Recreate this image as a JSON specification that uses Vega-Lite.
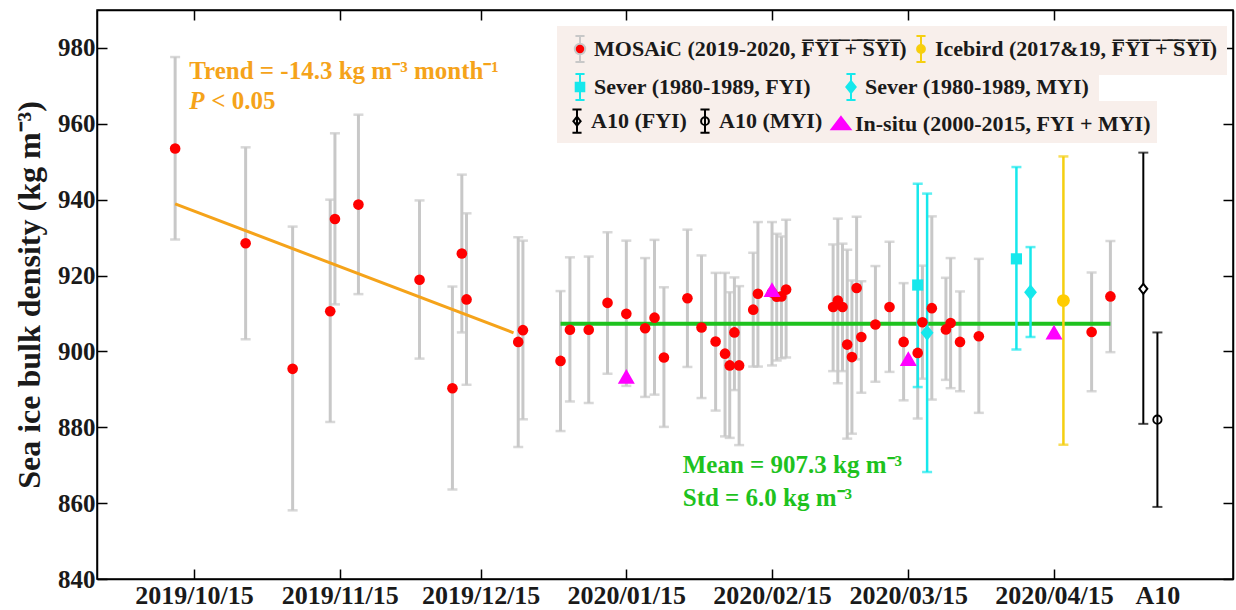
{
  "$schema": "https://vega.github.io/schema/vega-lite/v6.json",
  "width": 1136,
  "height": 569,
  "autosize": {"type": "none"},
  "padding": {"left": 97, "top": 10, "right": 3, "bottom": 31},
  "background": "white",
  "config": {
    "font": "Liberation Serif",
    "view": {"stroke": "#000000", "strokeWidth": 1.5},
    "axis": {
      "domainColor": "#000000", "domainWidth": 1.5, "tickColor": "#000000", "tickWidth": 1.5, "grid": false,
      "labelFont": "Liberation Serif", "labelFontWeight": "bold", "labelFontSize": 25, "labelColor": "#1a1a1a",
      "titleFont": "Liberation Serif", "titleFontWeight": "bold", "titleFontSize": 32, "titleColor": "#1a1a1a"
    },
    "legend": {"labelFont": "Liberation Serif", "labelFontWeight": "bold", "labelFontSize": 22, "labelColor": "#1a1a1a"}
  },
  "datasets": {
    "obs": [
      {"series": "MOSAiC", "date": "2019-10-11", "value": 953.5, "lo": 929.5, "hi": 977.6},
      {"series": "MOSAiC", "date": "2019-10-26", "value": 928.5, "lo": 903.2, "hi": 953.8},
      {"series": "MOSAiC", "date": "2019-11-05", "value": 895.4, "lo": 858.1, "hi": 932.9},
      {"series": "MOSAiC", "date": "2019-11-13", "value": 910.6, "lo": 881.4, "hi": 940.0},
      {"series": "MOSAiC", "date": "2019-11-14", "value": 934.9, "lo": 912.4, "hi": 957.5},
      {"series": "MOSAiC", "date": "2019-11-19", "value": 938.7, "lo": 915.1, "hi": 962.4},
      {"series": "MOSAiC", "date": "2019-12-02", "value": 918.9, "lo": 898.1, "hi": 939.8},
      {"series": "MOSAiC", "date": "2019-12-09", "value": 890.3, "lo": 863.6, "hi": 917.1},
      {"series": "MOSAiC", "date": "2019-12-11", "value": 925.8, "lo": 905.0, "hi": 946.6},
      {"series": "MOSAiC", "date": "2019-12-12", "value": 913.7, "lo": 891.2, "hi": 936.4},
      {"series": "MOSAiC", "date": "2019-12-23", "value": 902.5, "lo": 874.8, "hi": 930.1},
      {"series": "MOSAiC", "date": "2019-12-24", "value": 905.6, "lo": 882.1, "hi": 929.2},
      {"series": "MOSAiC", "date": "2020-01-01", "value": 897.5, "lo": 879.0, "hi": 915.9},
      {"series": "MOSAiC", "date": "2020-01-03", "value": 905.7, "lo": 886.8, "hi": 924.8},
      {"series": "MOSAiC", "date": "2020-01-07", "value": 905.7, "lo": 886.4, "hi": 925.0},
      {"series": "MOSAiC", "date": "2020-01-11", "value": 912.8, "lo": 894.1, "hi": 931.4},
      {"series": "MOSAiC", "date": "2020-01-15", "value": 909.9, "lo": 890.9, "hi": 929.2},
      {"series": "MOSAiC", "date": "2020-01-19", "value": 906.1, "lo": 888.0, "hi": 924.6},
      {"series": "MOSAiC", "date": "2020-01-21", "value": 908.9, "lo": 888.6, "hi": 929.4},
      {"series": "MOSAiC", "date": "2020-01-23", "value": 898.4, "lo": 880.1, "hi": 916.9},
      {"series": "MOSAiC", "date": "2020-01-28", "value": 914.0, "lo": 895.9, "hi": 932.1},
      {"series": "MOSAiC", "date": "2020-01-31", "value": 906.3, "lo": 887.7, "hi": 925.3},
      {"series": "MOSAiC", "date": "2020-02-03", "value": 902.6, "lo": 884.4, "hi": 920.7},
      {"series": "MOSAiC", "date": "2020-02-05", "value": 899.4, "lo": 877.6, "hi": 920.7},
      {"series": "MOSAiC", "date": "2020-02-06", "value": 896.3, "lo": 877.2, "hi": 915.6},
      {"series": "MOSAiC", "date": "2020-02-07", "value": 905.0, "lo": 889.8, "hi": 919.5},
      {"series": "MOSAiC", "date": "2020-02-08", "value": 896.3, "lo": 875.3, "hi": 917.2},
      {"series": "MOSAiC", "date": "2020-02-11", "value": 911.0, "lo": 896.0, "hi": 926.0},
      {"series": "MOSAiC", "date": "2020-02-12", "value": 915.2, "lo": 896.0, "hi": 934.1},
      {"series": "MOSAiC", "date": "2020-02-15", "value": 915.5, "lo": 896.3, "hi": 934.1},
      {"series": "MOSAiC", "date": "2020-02-16", "value": 914.4, "lo": 897.6, "hi": 931.0},
      {"series": "MOSAiC", "date": "2020-02-17", "value": 914.5, "lo": 898.2, "hi": 930.3},
      {"series": "MOSAiC", "date": "2020-02-18", "value": 916.3, "lo": 898.4, "hi": 934.7},
      {"series": "MOSAiC", "date": "2020-02-28", "value": 911.7, "lo": 894.8, "hi": 928.2},
      {"series": "MOSAiC", "date": "2020-02-29", "value": 913.4, "lo": 891.6, "hi": 935.0},
      {"series": "MOSAiC", "date": "2020-03-01", "value": 911.7, "lo": 894.8, "hi": 928.4},
      {"series": "MOSAiC", "date": "2020-03-02", "value": 901.8, "lo": 877.0, "hi": 926.8},
      {"series": "MOSAiC", "date": "2020-03-03", "value": 898.5, "lo": 878.3, "hi": 918.7},
      {"series": "MOSAiC", "date": "2020-03-04", "value": 916.7, "lo": 897.9, "hi": 935.5},
      {"series": "MOSAiC", "date": "2020-03-05", "value": 903.8, "lo": 889.1, "hi": 918.5},
      {"series": "MOSAiC", "date": "2020-03-08", "value": 907.1, "lo": 892.0, "hi": 922.5},
      {"series": "MOSAiC", "date": "2020-03-11", "value": 911.7, "lo": 894.6, "hi": 928.9},
      {"series": "MOSAiC", "date": "2020-03-14", "value": 902.5, "lo": 887.1, "hi": 918.0},
      {"series": "MOSAiC", "date": "2020-03-17", "value": 899.6, "lo": 882.3, "hi": 916.9},
      {"series": "MOSAiC", "date": "2020-03-18", "value": 907.7, "lo": 892.8, "hi": 922.6},
      {"series": "MOSAiC", "date": "2020-03-20", "value": 911.4, "lo": 887.3, "hi": 935.6},
      {"series": "MOSAiC", "date": "2020-03-23", "value": 905.8, "lo": 892.5, "hi": 919.4},
      {"series": "MOSAiC", "date": "2020-03-24", "value": 907.5, "lo": 890.3, "hi": 924.6},
      {"series": "MOSAiC", "date": "2020-03-26", "value": 902.5, "lo": 889.5, "hi": 915.8},
      {"series": "MOSAiC", "date": "2020-03-30", "value": 904.0, "lo": 883.8, "hi": 924.4},
      {"series": "MOSAiC", "date": "2020-04-23", "value": 905.1, "lo": 889.5, "hi": 920.8},
      {"series": "MOSAiC", "date": "2020-04-27", "value": 914.5, "lo": 899.8, "hi": 929.1},
      {"series": "Sever FYI", "date": "2020-03-17", "value": 917.5, "lo": 890.6, "hi": 944.2},
      {"series": "Sever FYI", "date": "2020-04-07", "value": 924.4, "lo": 900.5, "hi": 948.6},
      {"series": "Sever MYI", "date": "2020-03-19", "value": 904.9, "lo": 868.2, "hi": 941.6},
      {"series": "Sever MYI", "date": "2020-04-10", "value": 915.6, "lo": 903.8, "hi": 927.5},
      {"series": "Icebird", "date": "2020-04-17", "value": 913.4, "lo": 875.4, "hi": 951.4}
    ],
    "ref": [
      {"source": "In-situ", "date": "2020-01-15", "value": 893.4},
      {"source": "In-situ", "date": "2020-02-15", "value": 916.3},
      {"source": "In-situ", "date": "2020-03-15", "value": 898.1},
      {"source": "In-situ", "date": "2020-04-15", "value": 905.1},
      {"source": "A10 FYI", "date": "2020-05-04", "value": 916.5, "lo": 880.9, "hi": 952.4},
      {"source": "A10 MYI", "date": "2020-05-07", "value": 882.0, "lo": 859.0, "hi": 905.0}
    ],
    "trend": [
      {"date": "2019-10-11", "value": 938.9},
      {"date": "2019-12-22", "value": 904.9}
    ],
    "mean": [
      {"date": "2020-01-01", "end": "2020-04-27", "value": 907.3}
    ],
    "notes": [
      {"group": "trend", "date": "2019-10-14", "value": 974.0, "label": "Trend = -14.3 kg m⁻³ month⁻¹"},
      {"group": "p", "date": "2019-10-14", "value": 966.1, "label": "P"},
      {"group": "p2", "date": "2019-10-14", "value": 966.1, "label": "< 0.05"},
      {"group": "mean", "date": "2020-01-27", "value": 870.0, "label": "Mean = 907.3 kg m⁻³"},
      {"group": "mean", "date": "2020-01-27", "value": 861.3, "label": "Std = 6.0 kg m⁻³"}
    ]
  },
  "layer": [
    {
      "data": {"name": "obs"},
      "encoding": {
        "x": {
          "field": "date", "type": "temporal", "title": null,
          "scale": {"type": "utc", "nice": false, "domain": [{"year": 2019, "month": 9, "date": 24, "hours": 9, "utc": true}, {"year": 2020, "month": 5, "date": 23, "hours": 2, "utc": true}]},
          "axis": {
            "orient": "bottom", "title": null, "tickSize": -10, "labelPadding": 13, "labelOverlap": false, "labelFlush": false, "labelFontSize": 26,
            "values": [
              {"year": 2019, "month": 10, "date": 15, "utc": true},
              {"year": 2019, "month": 11, "date": 15, "utc": true},
              {"year": 2019, "month": 12, "date": 15, "utc": true},
              {"year": 2020, "month": 1, "date": 15, "utc": true},
              {"year": 2020, "month": 2, "date": 15, "utc": true},
              {"year": 2020, "month": 3, "date": 15, "utc": true},
              {"year": 2020, "month": 4, "date": 15, "utc": true},
              {"year": 2020, "month": 5, "date": 7, "utc": true}
            ],
            "labelExpr": "datum.value > 1588291200000 ? 'A10' : utcFormat(datum.value, '%Y/%m/%d')",
            "tickOpacity": {"condition": {"test": "datum.value > 1588291200000", "value": 0}, "value": 1}
          }
        }
      },
      "layer": [
        {
          "transform": [{"filter": "datum.series === 'MOSAiC'"}],
          "mark": {"type": "errorbar", "color": "#c8c8c8", "thickness": 3, "ticks": {"size": 10, "thickness": 2.5}},
          "encoding": {
            "y": {
              "field": "lo", "type": "quantitative", "title": "Sea ice bulk density (kg m⁻³)",
              "scale": {"domain": [840, 990], "nice": false, "zero": false},
              "axis": {"orient": "left", "title": "Sea ice bulk density (kg m⁻³)", "values": [840, 860, 880, 900, 920, 940, 960, 980], "tickSize": -10, "labelPadding": 12, "titlePadding": 11}
            },
            "y2": {"field": "hi"}
          }
        },
        {
          "data": {"name": "mean"},
          "mark": {"type": "rule", "color": "#1ec21e", "strokeWidth": 4},
          "encoding": {
            "x2": {"field": "end"},
            "y": {"field": "value", "type": "quantitative", "title": "Sea ice bulk density (kg m⁻³)"}
          }
        },
        {
          "data": {"name": "trend"},
          "mark": {"type": "line", "color": "#f5a31a", "strokeWidth": 3},
          "encoding": {
            "y": {"field": "value", "type": "quantitative", "title": "Sea ice bulk density (kg m⁻³)"}
          }
        },
        {
          "transform": [{"filter": "datum.series === 'Sever FYI' || datum.series === 'Sever MYI'"}],
          "mark": {"type": "errorbar", "color": "#16e8ec", "thickness": 2.5, "ticks": {"size": 10, "thickness": 2.5}},
          "encoding": {
            "y": {"field": "lo", "type": "quantitative", "title": "Sea ice bulk density (kg m⁻³)"},
            "y2": {"field": "hi"}
          }
        },
        {
          "transform": [{"filter": "datum.series === 'Icebird'"}],
          "mark": {"type": "errorbar", "color": "#f5cf10", "thickness": 2.5, "ticks": {"size": 10, "thickness": 2.5}},
          "encoding": {
            "y": {"field": "lo", "type": "quantitative", "title": "Sea ice bulk density (kg m⁻³)"},
            "y2": {"field": "hi"}
          }
        },
        {
          "transform": [{"filter": "datum.series === 'MOSAiC'"}],
          "mark": {"type": "point", "filled": true, "opacity": 1, "strokeWidth": 0, "shape": "circle", "size": 113, "color": "#ff0000"},
          "encoding": {"y": {"field": "value", "type": "quantitative", "title": "Sea ice bulk density (kg m⁻³)"}}
        },
        {
          "transform": [{"filter": "datum.series === 'Icebird'"}],
          "mark": {"type": "point", "filled": true, "opacity": 1, "strokeWidth": 0, "shape": "circle", "size": 165, "color": "#ffcc00"},
          "encoding": {"y": {"field": "value", "type": "quantitative", "title": "Sea ice bulk density (kg m⁻³)"}}
        },
        {
          "transform": [{"filter": "datum.series === 'Sever FYI'"}],
          "mark": {"type": "point", "filled": true, "opacity": 1, "strokeWidth": 0, "shape": "square", "size": 125, "color": "#16e8ec"},
          "encoding": {"y": {"field": "value", "type": "quantitative", "title": "Sea ice bulk density (kg m⁻³)"}}
        },
        {
          "transform": [{"filter": "datum.series === 'Sever MYI'"}],
          "mark": {"type": "point", "filled": true, "opacity": 1, "strokeWidth": 0, "shape": "M0,-1L0.8,0L0,1L-0.8,0Z", "size": 256, "color": "#16e8ec"},
          "encoding": {"y": {"field": "value", "type": "quantitative", "title": "Sea ice bulk density (kg m⁻³)"}}
        },
        {
          "data": {"name": "notes"},
          "transform": [{"filter": "datum.group === 'trend'"}],
          "mark": {"type": "text", "align": "left", "baseline": "middle", "fontSize": 25, "fontWeight": "bold", "color": "#f5a31a"},
          "encoding": {"y": {"field": "value", "type": "quantitative", "title": "Sea ice bulk density (kg m⁻³)"}, "text": {"field": "label"}}
        },
        {
          "data": {"name": "notes"},
          "transform": [{"filter": "datum.group === 'p'"}],
          "mark": {"type": "text", "align": "left", "baseline": "middle", "fontSize": 25, "fontWeight": "bold", "fontStyle": "italic", "color": "#f5a31a"},
          "encoding": {"y": {"field": "value", "type": "quantitative", "title": "Sea ice bulk density (kg m⁻³)"}, "text": {"field": "label"}}
        },
        {
          "data": {"name": "notes"},
          "transform": [{"filter": "datum.group === 'p2'"}],
          "mark": {"type": "text", "align": "left", "baseline": "middle", "fontSize": 25, "fontWeight": "bold", "color": "#f5a31a", "dx": 22},
          "encoding": {"y": {"field": "value", "type": "quantitative", "title": "Sea ice bulk density (kg m⁻³)"}, "text": {"field": "label"}}
        },
        {
          "data": {"name": "notes"},
          "transform": [{"filter": "datum.group === 'mean'"}],
          "mark": {"type": "text", "align": "left", "baseline": "middle", "fontSize": 25, "fontWeight": "bold", "color": "#1ec21e"},
          "encoding": {"y": {"field": "value", "type": "quantitative", "title": "Sea ice bulk density (kg m⁻³)"}, "text": {"field": "label"}}
        },
        {
          "data": {"values": []},
          "mark": {"type": "point", "filled": true, "opacity": 1},
          "encoding": {
            "fill": {
              "field": "series", "type": "nominal",
              "scale": {"domain": ["MOSAiC", "Icebird"], "range": ["#ff0000", "#ffcc00"]},
              "legend": {
                "orient": "none", "legendX": 460, "legendY": 16, "title": null, "direction": "horizontal",
                "columns": 2, "columnPadding": 0, "padding": 9,
                "fillColor": "#f8efeb", "strokeColor": null, "symbolSize": 676, "symbolStrokeWidth": 2, "symbolOpacity": 1, "labelOffset": 0, "labelLimit": 0,
                "labelExpr": "datum.label === 'MOSAiC' ? 'MOSAiC (2019-2020, F\u0305Y\u0305I\u0305 \u0305+\u0305 \u0305S\u0305Y\u0305I\u0305)' : 'Icebird (2017&19, F\u0305Y\u0305I\u0305 \u0305+\u0305 \u0305S\u0305Y\u0305I\u0305)'"
              }
            },
            "stroke": {
              "field": "series", "type": "nominal",
              "scale": {"domain": ["MOSAiC", "Icebird"], "range": ["#c8c8c8", "#f5cf10"]}
            },
            "shape": {
              "field": "series", "type": "nominal",
              "scale": {
                "domain": ["MOSAiC", "Icebird"],
                "range": [
                  "M0,-1L0,-0.42M0,0.42L0,1M-0.35,-1L0.35,-1M-0.35,1L0.35,1M0.4,0A0.4,0.4,0,1,1,-0.4,0A0.4,0.4,0,1,1,0.4,0Z",
                  "M0,-1L0,1M-0.35,-1L0.35,-1M-0.35,1L0.35,1M0.3,0A0.3,0.3,0,1,1,-0.3,0A0.3,0.3,0,1,1,0.3,0Z"
                ]
              }
            }
          }
        },
        {
          "data": {"values": []},
          "mark": {"type": "point", "filled": true, "opacity": 1},
          "encoding": {
            "fill": {
              "field": "series", "type": "nominal",
              "scale": {"domain": ["Sever FYI", "Sever MYI"], "range": ["#16e8ec", "#16e8ec"]},
              "legend": {
                "orient": "none", "legendX": 460, "legendY": 54, "title": null, "direction": "horizontal",
                "columns": 2, "columnPadding": 26, "padding": 9,
                "fillColor": "#f8efeb", "strokeColor": null, "symbolSize": 676, "symbolStrokeWidth": 2, "symbolOpacity": 1, "labelOffset": 0, "labelLimit": 0,
                "labelExpr": "datum.label === 'Sever FYI' ? 'Sever (1980-1989, FYI)' : 'Sever (1980-1989, MYI)'"
              }
            },
            "stroke": {
              "field": "series", "type": "nominal",
              "scale": {"domain": ["Sever FYI", "Sever MYI"], "range": ["#16e8ec", "#16e8ec"]}
            },
            "shape": {
              "field": "series", "type": "nominal",
              "scale": {
                "domain": ["Sever FYI", "Sever MYI"],
                "range": [
                  "M0,-1L0,1M-0.35,-1L0.35,-1M-0.35,1L0.35,1M-0.33,-0.33L0.33,-0.33L0.33,0.33L-0.33,0.33Z",
                  "M0,-1L0,1M-0.35,-1L0.35,-1M-0.35,1L0.35,1M0,-0.45L0.36,0L0,0.45L-0.36,0Z"
                ]
              }
            }
          }
        }
      ],
      "resolve": {"scale": {"fill": "independent", "stroke": "independent", "shape": "independent"}}
    },
    {
      "data": {"name": "ref"},
      "encoding": {
        "x": {
          "field": "date", "type": "temporal", "title": null,
          "scale": {"type": "utc", "nice": false, "domain": [{"year": 2019, "month": 9, "date": 24, "hours": 9, "utc": true}, {"year": 2020, "month": 5, "date": 23, "hours": 2, "utc": true}]},
          "axis": {
            "orient": "top", "title": null, "labels": false, "tickSize": -10,
            "values": [
              {"year": 2019, "month": 10, "date": 15, "utc": true},
              {"year": 2019, "month": 11, "date": 15, "utc": true},
              {"year": 2019, "month": 12, "date": 15, "utc": true},
              {"year": 2020, "month": 1, "date": 15, "utc": true},
              {"year": 2020, "month": 2, "date": 15, "utc": true},
              {"year": 2020, "month": 3, "date": 15, "utc": true},
              {"year": 2020, "month": 4, "date": 15, "utc": true}
            ]
          }
        }
      },
      "layer": [
        {
          "transform": [{"filter": "datum.source === 'A10 FYI' || datum.source === 'A10 MYI'"}],
          "mark": {"type": "errorbar", "color": "#000000", "thickness": 2, "ticks": {"size": 10, "thickness": 2}},
          "encoding": {
            "y": {
              "field": "lo", "type": "quantitative", "title": null,
              "scale": {"domain": [840, 990], "nice": false, "zero": false},
              "axis": {"orient": "right", "title": null, "labels": false, "tickSize": -10, "values": [840, 860, 880, 900, 920, 940, 960, 980]}
            },
            "y2": {"field": "hi"}
          }
        },
        {
          "transform": [{"filter": "datum.source === 'A10 FYI'"}],
          "mark": {"type": "point", "filled": false, "opacity": 1, "strokeWidth": 2, "shape": "M0,-1L0.8,0L0,1L-0.8,0Z", "size": 100, "color": "#000000", "fill": "white"},
          "encoding": {"y": {"field": "value", "type": "quantitative", "title": null}}
        },
        {
          "transform": [{"filter": "datum.source === 'A10 MYI'"}],
          "mark": {"type": "point", "filled": false, "opacity": 1, "strokeWidth": 1.8, "shape": "circle", "size": 70, "color": "#000000"},
          "encoding": {"y": {"field": "value", "type": "quantitative", "title": null}}
        },
        {
          "transform": [{"filter": "datum.source === 'In-situ'"}],
          "mark": {"type": "point", "filled": true, "opacity": 1, "strokeWidth": 0, "shape": "triangle-up", "size": 290, "color": "#ff00ff"},
          "encoding": {"y": {"field": "value", "type": "quantitative", "title": null}}
        },
        {
          "data": {"values": []},
          "mark": {"type": "point", "filled": true, "opacity": 1},
          "encoding": {
            "fill": {
              "field": "source", "type": "nominal",
              "scale": {"domain": ["A10 FYI", "A10 MYI", "In-situ"], "range": ["transparent", "transparent", "#ff00ff"]},
              "legend": {
                "orient": "none", "legendX": 460, "legendY": 91, "title": null, "direction": "horizontal",
                "columns": 3, "columnPadding": 4, "padding": 6,
                "fillColor": "#f8efeb", "strokeColor": null, "symbolSize": 676, "symbolStrokeWidth": 2, "symbolOpacity": 1, "labelOffset": 0, "labelLimit": 0,
                "labelExpr": "datum.label === 'A10 FYI' ? 'A10 (FYI)' : datum.label === 'A10 MYI' ? 'A10 (MYI)' : 'In-situ (2000-2015, FYI + MYI)'"
              }
            },
            "stroke": {
              "field": "source", "type": "nominal",
              "scale": {"domain": ["A10 FYI", "A10 MYI", "In-situ"], "range": ["#000000", "#000000", "#ff00ff"]}
            },
            "shape": {
              "field": "source", "type": "nominal",
              "scale": {
                "domain": ["A10 FYI", "A10 MYI", "In-situ"],
                "range": [
                  "M0,-0.9L0,0.9M-0.35,-0.9L0.35,-0.9M-0.35,0.9L0.35,0.9M0,-0.35L0.28,0L0,0.35L-0.28,0Z",
                  "M0,-0.9L0,0.9M-0.35,-0.9L0.35,-0.9M-0.35,0.9L0.35,0.9M0.3,0A0.3,0.3,0,1,1,-0.3,0A0.3,0.3,0,1,1,0.3,0Z",
                  "M0,-0.5L0.72,0.45L-0.72,0.45Z"
                ]
              }
            }
          }
        }
      ]
    }
  ],
  "resolve": {"scale": {"x": "independent", "y": "independent", "fill": "independent", "stroke": "independent", "shape": "independent"}}
}
